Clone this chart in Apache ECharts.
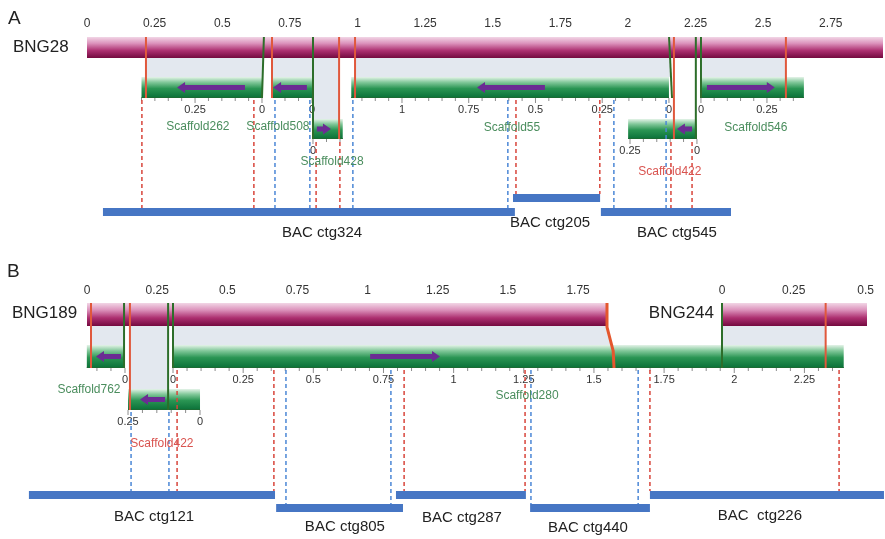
<!DOCTYPE html>
<html><head><meta charset="utf-8">
<script src="https://cdn.jsdelivr.net/npm/echarts@6/dist/echarts.min.js"></script>
<style>html,body{margin:0;padding:0;background:#fff}#c{width:885px;height:539px}</style>
</head><body><div id="c"></div>
<script>
// ================= DATA =================
// Panel A : optical map BNG28 (Mb)
const bng28Length = 2.943;
const bng28Ticks = [0,0.25,0.5,0.75,1,1.25,1.5,1.75,2,2.25,2.5,2.75];
// scaffolds: [name, origin on map, direction, stretch, shown length (Mb), tier]
const scaffoldsA = [
  ['Scaffold262', 0.647, -1, 0.99, 0.45, 'scaf'],
  ['Scaffold508', 0.832, -1, 1.0, 0.148, 'scaf'],
  ['Scaffold428', 0.8355, 1, 1.0, 0.11, 'low'],
  ['Scaffold55', 2.1516, -1, 0.987, 1.19, 'scaf'],
  ['Scaffold422', 2.2551, -1, 0.99, 0.257, 'low'],
  ['Scaffold546', 2.2699, 1, 0.976, 0.39, 'scaf']
];
// alignment boundaries: [kind, map pos, scaffold-side pos, tier]
const alignLinesA = [
  ['red',0.218,0.218,'scaf'], ['green',0.654,0.647,'scaf'], ['red',0.684,0.684,'scaf'],
  ['green',0.8355,0.8355,'low'], ['red',0.932,0.932,'low'], ['red',0.991,0.991,'scaf'],
  ['green',2.152,2.163,'scaf'], ['red',2.170,2.170,'low'], ['green',2.251,2.251,'low'],
  ['green',2.270,2.270,'scaf'], ['red',2.584,2.584,'scaf']
];
// aligned regions: [map start, map end, scaffold start, scaffold end, tier]
const shadeA = [
  [0.218,0.651,0.218,0.651,'scaf'], [0.684,0.8355,0.684,0.8355,'scaf'],
  [0.8355,0.932,0.8355,0.932,'low'], [0.991,2.152,0.991,2.163,'scaf'],
  [2.270,2.584,2.270,2.584,'scaf']
];
// orientation arrows: [from, to, tier]
const arrowsA = [[0.584,0.333,'scaf'],[0.813,0.688,'scaf'],[0.850,0.902,'low'],[1.693,1.442,'scaf'],[2.237,2.181,'low'],[2.292,2.543,'scaf']];
// BAC anchors: [colour, pos, from tier, to row]
const dashedA = [
  ['red',0.203,'scaf','low'],['red',0.617,'scaf','low'],['blue',0.695,'scaf','low'],['blue',0.824,'scaf','low'],
  ['red',0.847,'low','low'],['red',0.935,'low','low'],['blue',0.983,'scaf','low'],['blue',1.556,'scaf','low'],
  ['red',1.586,'scaf','high'],['red',1.896,'scaf','high'],['blue',1.948,'scaf','low'],['blue',2.141,'scaf','low'],
  ['red',2.159,'low','low'],['red',2.237,'low','low']
];
// BAC contigs: [name, start, end, row]
const bacA = [['BAC ctg324',0.059,1.582,'low'],['BAC ctg205',1.575,1.897,'high'],['BAC ctg545',1.900,2.381,'low']];

// Panel B : optical maps BNG189 and BNG244 (Mb)
const bng189Length = 1.853;
const bng189Ticks = [0,0.25,0.5,0.75,1,1.25,1.5,1.75];
const bng244Length = 0.505;
const bng244Ticks = [0,0.25,0.5];
const scaffoldsB = [
  ['Scaffold762', 0.1354, -1, 1.0, 0.136, 'scaf'],
  ['Scaffold422', 0.4027, -1, 1.026, 0.25, 'low'],
  ['Scaffold280', 0.3065, 1, 1.0, 2.39, 'scaf']
];
const alignLinesB = [['red',0.0143,0.0143,'scaf'],['green',0.132,0.132,'scaf'],['red',0.153,0.153,'low'],['green',0.289,0.289,'low'],['green',0.3065,0.3065,'scaf']];
const shadeB = [[0.0143,0.132,0.0143,0.132,'scaf'],[0.153,0.289,0.153,0.289,'low'],[0.3065,1.853,0.3065,1.873,'scaf']];
const mapEndB = [1.853, 1.878]; // BNG189 end -> Scaffold280
const arrowsB = [[0.121,0.032,'scaf'],[0.278,0.189,'low'],[1.009,1.258,'scaf']];
const dashedB = [
  ['blue',0.157,'low','high'],['blue',0.292,'low','high'],['red',0.321,'scaf','high'],['red',0.666,'scaf','high'],
  ['blue',0.709,'scaf','low'],['blue',1.083,'scaf','low'],['red',1.130,'scaf','high'],['red',1.561,'scaf','high'],
  ['blue',1.582,'scaf','low'],['blue',1.964,'scaf','low'],['red',2.006,'scaf','high'],['red',2.680,'scaf','high']
];
const bacB = [['BAC ctg121',-0.207,0.670,'high'],['BAC ctg805',0.674,1.126,'low'],['BAC ctg287',1.101,1.564,'high'],['BAC ctg440',1.579,2.006,'low'],['BAC  ctg226',2.006,2.840,'high']];
// BNG244 (own coordinates)
const alignLines244 = [['green',0,0,'scaf'],['red',0.361,0.361,'scaf']];
const shade244 = [[0,0.361,0,0.361,'scaf']];

// ================= LAYOUT / STYLE =================
const FONT = '"Liberation Sans", Arial, Helvetica, sans-serif';
const C = {shade:'#e3e8ef', red:'#e0583c', green:'#2d6e2a', dashRed:'#d8453b', dashBlue:'#4b87d6',
  bac:'#4676c4', arrow:'#6b2c93', tick:'#8c8c8c', orange:'#e4572e', scafText:'#4a8d5d', redText:'#d9534f'};
const layoutA = {bngTop:37,bngBot:58,scafTop:77,scafBot:98,lowTop:119,lowBot:139,dashScaf:100,dashLow:142,rowHigh:194,rowLow:208,barH:8};
const layoutB = {bngTop:303,bngBot:326,scafTop:345,scafBot:368,lowTop:389,lowBot:410,dashScaf:370,dashLow:412,rowHigh:491,rowLow:504,barH:8};
const labelPosA = {'Scaffold262':[0.410,127],'Scaffold508':[0.706,127],'Scaffold428':[0.906,162],'Scaffold55':[1.571,128],
  'Scaffold546':[2.473,128],'Scaffold422':[2.155,172],'BAC ctg324':[0.869,233],'BAC ctg205':[1.712,223],'BAC ctg545':[2.181,233]};
const labelPosB = {'Scaffold762':[0.007,390],'Scaffold280':[1.568,396],'Scaffold422':[0.267,444],'BAC ctg121':[0.239,517],
  'BAC ctg805':[0.919,527],'BAC ctg287':[1.336,518],'BAC ctg440':[1.785,528],'BAC  ctg226':[2.398,516]};

const magentaGrad = () => new echarts.graphic.LinearGradient(0,0,0,1,[{offset:0,color:'#f2d6e6'},{offset:0.3,color:'#dc93bc'},{offset:0.65,color:'#ac2f70'},{offset:1,color:'#740a3f'}]);
const greenGrad = () => new echarts.graphic.LinearGradient(0,0,0,1,[{offset:0,color:'#e4f3e8'},{offset:0.25,color:'#82c89a'},{offset:0.55,color:'#2a9553'},{offset:1,color:'#0a7038'}]);
const fmt = v => String(Math.round(v*100)/100);
const minorOf = len => { const a=[]; for (let i=0;i*0.05<=len+1e-9;i++) a.push(Math.round(i*5)/100); return a; };

function buildPanel(axisIdx, L, D) {
  const S = [];
  const tTop = t => t==='low' ? L.lowTop : L.scafTop;
  const tBot = t => t==='low' ? L.lowBot : L.scafBot;
  const dStart = t => t==='low' ? L.dashLow : L.dashScaf;
  const rowY = r => r==='high' ? L.rowHigh : L.rowLow;
  function add(items, z, build) {
    S.push({type:'custom', xAxisIndex:axisIdx, yAxisIndex:axisIdx, z, silent:true, animation:false, clip:false,
      data: items.map((_, i) => [i, 0]),
      renderItem: (p, api) => build(items[p.dataIndex], v => api.coord([v, 0])[0])});
  }
  if (D.shade) add(D.shade, 1, (s, X) => ({type:'polygon', shape:{points:[[X(s[0]),L.bngBot],[X(s[1]),L.bngBot],[X(s[3]),tTop(s[4])],[X(s[2]),tTop(s[4])]]}, style:{fill:C.shade}}));
  if (D.map != null) add([D.map], 2, (len, X) => ({type:'rect', shape:{x:X(0), y:L.bngTop, width:X(len)-X(0), height:L.bngBot-L.bngTop}, style:{fill:magentaGrad()}}));
  if (D.scaffolds) add(D.scaffolds, 3, (s, X) => {
    const [name, o, dir, k, len, tier] = s;
    const a = X(o), b = X(o + dir*k*len), x0 = Math.min(a,b), w = Math.abs(b-a);
    const top = tTop(tier), bot = tBot(tier);
    const ch = [{type:'rect', shape:{x:x0,y:top,width:w,height:bot-top}, style:{fill:greenGrad()}},
                {type:'line', shape:{x1:x0,y1:bot-0.5,x2:x0+w,y2:bot-0.5}, style:{stroke:'#1b6b32',lineWidth:1}}];
    for (let i=0; i*0.05<=len+1e-9; i++) {
      const sv = i*0.05, x = X(o + dir*k*sv), major = i%5===0;
      ch.push({type:'line', shape:{x1:x,y1:bot,x2:x,y2:bot+(major?5:3)}, style:{stroke:C.tick,lineWidth:1}});
      if (major) ch.push({type:'text', x, y:bot+12, style:{text:fmt(sv), fontSize:11, fontFamily:FONT, fill:'#333', align:'center', verticalAlign:'middle'}});
    }
    return {type:'group', children:ch};
  });
  if (D.bac) add(D.bac, 3, (b, X) => ({type:'rect', shape:{x:X(b[1]), y:rowY(b[3]), width:X(b[2])-X(b[1]), height:L.barH}, style:{fill:C.bac}}));
  if (D.dashed) add(D.dashed, 4, (d, X) => { const x = X(d[1]); return {type:'line', shape:{x1:x,y1:dStart(d[2]),x2:x,y2:rowY(d[3])}, style:{stroke:d[0]==='red'?C.dashRed:C.dashBlue, lineWidth:1.5, lineDash:[4,3]}}; });
  if (D.lines) add(D.lines, 5, (l, X) => ({type:'line', shape:{x1:X(l[1]),y1:L.bngTop,x2:X(l[2]),y2:tBot(l[3])}, style:{stroke:l[0]==='red'?C.red:C.green, lineWidth:2}}));
  if (D.mapEnd) add([D.mapEnd], 5, (m, X) => ({type:'polyline', shape:{points:[[X(m[0]),L.bngTop],[X(m[0]),L.bngBot+1],[X(m[1]-0.003),L.scafTop+6],[X(m[1]),L.scafBot]]}, style:{stroke:C.orange, lineWidth:3, fill:null}}));
  if (D.arrows) add(D.arrows, 6, (a, X) => {
    const x0 = X(a[0]), x1 = X(a[1]), d = Math.sign(x1-x0), y = (tTop(a[2])+tBot(a[2]))/2, hb = x1 - d*8;
    return {type:'polygon', shape:{points:[[x0,y-2.5],[hb,y-2.5],[hb,y-5.5],[x1,y],[hb,y+5.5],[hb,y+2.5],[x0,y+2.5]]}, style:{fill:C.arrow}};
  });
  if (D.labels) {
    const items = Object.keys(D.labels);
    add(items, 7, (t, X) => {
      const [v, y] = D.labels[t]; const bac = t.startsWith('BAC');
      const red = t==='Scaffold422';
      return {type:'text', x:X(v), y, style:{text:t, fontSize:bac?15:12, fontFamily:FONT, fill:bac?'#222':(red?C.redText:C.scafText), align:'center', verticalAlign:'middle'}};
    });
  }
  return S;
}

function axisPair(gMain, gMinor, len, ticks, margin, tlen) {
  const base = {type:'value', position:'top', min:0, max:len, splitLine:{show:false}, axisLine:{show:false}};
  return [
    Object.assign({}, base, {gridIndex:gMain,
      axisTick:{show:true, customValues:ticks, length:tlen, lineStyle:{color:C.tick}},
      axisLabel:{show:true, customValues:ticks, margin, fontSize:12, color:'#333', fontFamily:FONT, formatter:v=>fmt(v)}}),
    Object.assign({}, base, {gridIndex:gMinor,
      axisTick:{show:true, customValues:minorOf(len), length:3, lineStyle:{color:C.tick}},
      axisLabel:{show:false}})
  ];
}

const chart = echarts.init(document.getElementById('c'), null, {renderer:'canvas'});
const mkGrid = (left, top, width, height) => ({left, top, width, height, outerBoundsMode:'none', containLabel:false});
const grids = [mkGrid(87,37,796,21), mkGrid(87,37,796,21), mkGrid(87,303,520,23), mkGrid(87,303,520,23), mkGrid(722,303,145,23), mkGrid(722,303,145,23)];
const xAxes = [].concat(axisPair(0,1,bng28Length,bng28Ticks,7,6), axisPair(2,3,bng189Length,bng189Ticks,6,5), axisPair(4,5,bng244Length,bng244Ticks,6,5));
const yAxes = grids.map((_, i) => ({type:'value', gridIndex:i, min:0, max:1, show:false}));

const series = [].concat(
  buildPanel(0, layoutA, {shade:shadeA, map:bng28Length, scaffolds:scaffoldsA, bac:bacA, dashed:dashedA, lines:alignLinesA, arrows:arrowsA, labels:labelPosA}),
  buildPanel(4, layoutB, {shade:shade244, map:bng244Length, lines:alignLines244}),
  buildPanel(2, layoutB, {shade:shadeB, map:bng189Length, scaffolds:scaffoldsB, bac:bacB, dashed:dashedB, lines:alignLinesB, mapEnd:mapEndB, arrows:arrowsB, labels:labelPosB})
);

const txt = (x, y, text, size, align) => ({type:'text', x, y, z:10, style:{text, fontSize:size, fontFamily:FONT, fill:'#222', align:align||'left', verticalAlign:'middle'}});
chart.setOption({
  animation:false,
  grid:grids, xAxis:xAxes, yAxis:yAxes, series,
  graphic:[txt(8,19,'A',19), txt(13,47,'BNG28',17), txt(7,272,'B',19), txt(12,313,'BNG189',17), txt(714,313,'BNG244',17,'right')]
});
</script></body></html>
